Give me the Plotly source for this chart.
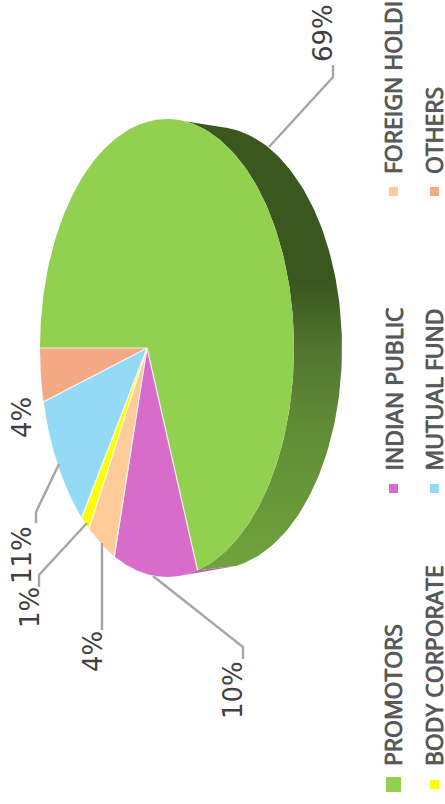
import numpy as np
import plotly.graph_objects as go

# Data, listed in drawing order (starting at the left of the pie, going down)
categories = ["OTHERS", "MUTUAL FUND", "BODY CORPORATE", "FOREIGN HOLDINGS", "INDIAN PUBLIC", "PROMOTORS"]
values = [4.4, 10.8, 1.3, 4.0, 10.7, 68.6]
percent_labels = ["4%", "11%", "1%", "4%", "10%", "69%"]
colors = ["#F4A985", "#93DAF7", "#FFFF00", "#FFCC99", "#D86CCB", "#92D050"]

W, H = 445, 804
CX, CY, RX, RY = 167, 348, 127, 229      # top face ellipse
BX, BRY = 215, 221                       # rear edge of the extrusion
A = -0.157                               # perspective shift of the apex


def project(theta):
    """Circle angle -> screen position, perspective so the centre lands off-centre."""
    u, v = np.cos(theta), np.sin(theta)
    d = 1 + A * u
    return CX + RX * (u + A) / d, CY + RY * v * np.sqrt(1 - A * A) / d


apex_x, apex_y = CX + RX * A, CY
edges = np.pi + np.concatenate([[0], np.cumsum(values)]) / sum(values) * -2 * np.pi

fig = go.Figure()


def poly(xs, ys, **kw):
    fig.add_trace(go.Scatter(x=xs, y=ys, mode="lines", fill="toself", line=dict(width=0),
                             hoverinfo="skip", showlegend=False, **kw))


# Sliver of the Indian Public side at the bottom
end_x, end_y = project(edges[5])
back_x, back_y = BX + RX * 0.173, CY + BRY * np.sqrt(1 - 0.173 ** 2)
sl = np.linspace(edges[5] + 0.14, edges[5], 12)
sx, sy = project(sl)
poly(np.append(sx, back_x), np.append(sy, back_y), fillcolor="#BE5CB3")

# Extruded side
phi_front_end = np.arctan2((end_y - CY) / RY, (end_x - CX) / RX)
phi_front = np.linspace(phi_front_end, -np.arccos(0.142), 120)
phi_back = np.linspace(-np.arccos(0.10), np.arccos(0.173), 120)
side_x = np.concatenate([CX + RX * np.cos(phi_front), BX + RX * np.cos(phi_back)])
side_y = np.concatenate([CY + RY * np.sin(phi_front), CY + BRY * np.sin(phi_back)])
fig.add_trace(go.Scatter(
    x=side_x, y=side_y, mode="lines", line=dict(width=0), fill="toself", hoverinfo="skip", showlegend=False,
    fillgradient=dict(type="vertical", colorscale=[
        [0, "#70A33C"], [0.31, "#618C37"], [0.49, "#527530"], [0.64, "#3A5720"], [1, "#3A5720"]]),
))

# Top face wedges
for i, c in enumerate(colors):
    th = np.linspace(edges[i], edges[i + 1], 240)
    x, y = project(th)
    poly(np.concatenate([[apex_x], x]), np.concatenate([[apex_y], y]), fillcolor=c)

# White separators
for e in edges[:6]:
    ex, ey = project(e)
    fig.add_trace(go.Scatter(x=[apex_x, ex], y=[apex_y, ey], mode="lines",
                             line=dict(color="rgba(255,255,255,0.8)", width=1.2),
                             hoverinfo="skip", showlegend=False))

# Leader lines and percentage labels
leaders = {
    "OTHERS":           ([59, 36, 36], [464, 512, 523]),
    "BODY CORPORATE":   ([87, 39, 39], [523, 575, 587]),
    "FOREIGN HOLDINGS": ([102, 102], [543, 630]),
    "INDIAN PUBLIC":    ([153, 243, 243], [576, 647, 659]),
    "PROMOTORS":        ([269, 333, 333], [147, 77, 65]),
}
for k, (lx, ly) in leaders.items():
    fig.add_trace(go.Scatter(x=lx, y=ly, mode="lines", line=dict(color="#A6A6A6", width=2.4),
                             hoverinfo="skip", showlegend=False))

label_pos = {"4%a": (22, 418), "11%": (22, 555), "1%": (30, 608), "4%b": (93, 652), "10%": (233, 690), "69%": (323, 33)}
for text, key in zip(percent_labels, ["4%a", "11%", "1%", "4%b", "10%", "69%"]):
    lx, ly = label_pos[key]
    fig.add_annotation(x=lx, y=ly, text=text, textangle=-90, showarrow=False,
                       xanchor="center", yanchor="middle",
                       font=dict(family="DejaVu Sans", size=26, color="#404040"))

# Legend drawn by hand (rotated with the chart)
legend_pos = {
    "PROMOTORS": (393, 768, 784.5, 15), "BODY CORPORATE": (433.5, 768, 784.5, 9),
    "INDIAN PUBLIC": (393, 473, 488.5, 9), "MUTUAL FUND": (433.5, 473, 488.5, 9),
    "FOREIGN HOLDINGS": (393, 176, 191.5, 9), "OTHERS": (433.5, 176, 191.5, 9),
}
marker_x = {393: 393.5, 433.5: 434.5}
for name, c in zip(categories, colors):
    lx, ty, my, ms = legend_pos[name]
    fig.add_trace(go.Scatter(x=[marker_x[lx]], y=[my], mode="markers", hoverinfo="skip", showlegend=False,
                             marker=dict(symbol="square", size=ms, color=c, line=dict(width=0))))
    fig.add_annotation(x=lx, y=ty, text=name, textangle=-90, showarrow=False,
                       xanchor="center", yanchor="bottom",
                       font=dict(family="Open Sans", size=23, color="#595959",
                                 shadow="0.5px 0 0.5px #595959, -0.5px 0 0.5px #595959, 0 0 1px #595959"))

fig.update_layout(
    width=W, height=H, margin=dict(l=0, r=0, t=0, b=0), paper_bgcolor="white", plot_bgcolor="white",
    xaxis=dict(range=[0, W], visible=False, fixedrange=True),
    yaxis=dict(range=[H, 0], visible=False, fixedrange=True),
    showlegend=False,
)
fig.write_html("out.html", post_script="document.body.style.margin='0';document.body.style.overflow='hidden';",
               config={"displayModeBar": False})
